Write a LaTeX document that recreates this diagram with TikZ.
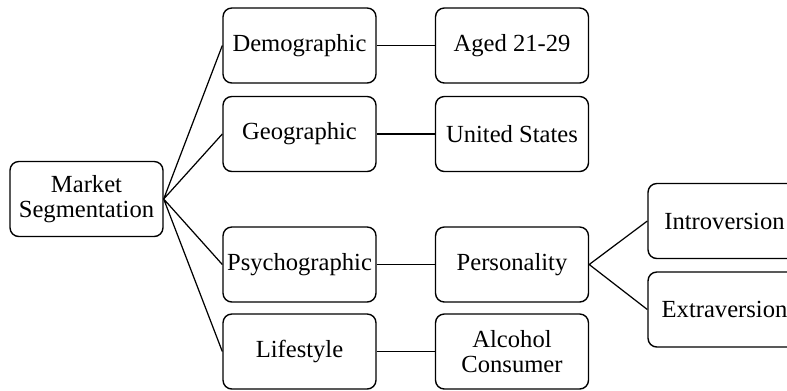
\documentclass[tikz,border=0pt]{standalone}
\usepackage{fontspec}
\setmainfont{Liberation Serif}
\tikzset{box/.style={draw, rounded corners=5pt, line width=0.8pt, minimum width=3.06cm, minimum height=1.5cm, align=center, inner sep=1pt, font=\fontsize{14}{14.5}\selectfont}}
\begin{document}
\begin{tikzpicture}[x=0.02cm,y=-0.02cm,line width=0.7pt]
\useasboundingbox (0,0) rectangle (787,390);
\clip (0,0) rectangle (787,390);

\node[box] (ms) at (86.5,199) {Market\\Segmentation};

\node[box] (dem) at (299.5,45.5) {Demographic};
\node[box] (geo) at (299.5,134) {Geographic};
\node[box] (psy) at (299.5,264.5) {Psychographic};
\node[box] (life) at (299.5,351.5) {Lifestyle};

\node[box] (aged) at (512,45.5) {Aged 21-29};
\node[box] (us) at (512,134) {United States};
\node[box] (pers) at (512,264.5) {Personality};
\node[box] (alc) at (512,351.5) {Alcohol\\Consumer};

\node[box] (intro) at (724.5,221) {Introversion};
\node[box] (extra) at (724.5,309.5) {Extraversion};

\draw (ms.east) -- (dem.west)
  (ms.east) -- (geo.west)
  (ms.east) -- (psy.west)
  (ms.east) -- (life.west);
\draw (dem) -- (aged) (geo) -- (us) (psy) -- (pers) (life) -- (alc);
\draw (pers.east) -- (intro.west)
  (pers.east) -- (extra.west);

\end{tikzpicture}
\end{document}
